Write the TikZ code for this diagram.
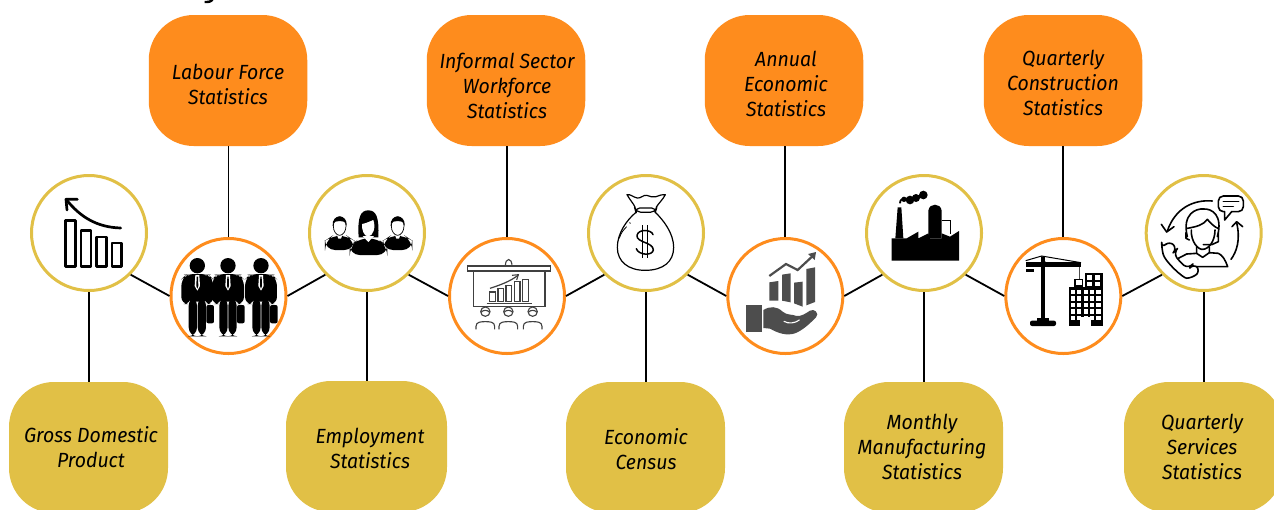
\documentclass[tikz,border=0pt]{standalone}
\usepackage{fontspec}
\setmainfont[ItalicFeatures={FakeStretch=0.95}]{Fira Sans}
\definecolor{orangeC}{HTML}{FE8C1D}
\definecolor{goldC}{HTML}{E1C046}
\definecolor{handC}{HTML}{4D4D4D}
\tikzset{
  obox/.style={rectangle,rounded corners=45pt,fill=orangeC,minimum width=158.5pt,minimum height=131pt,inner sep=0pt},
  gbox/.style={rectangle,rounded corners=45pt,fill=goldC,minimum width=159pt,minimum height=131pt,inner sep=0pt},
  lbl/.style={align=center,font=\itshape\fontsize{20.5}{25}\selectfont,inner sep=0pt,text=black},
  gcirc/.style={circle,draw=goldC,line width=3pt,fill=white,minimum size=115pt,inner sep=0pt},
  ocirc/.style={circle,draw=orangeC,line width=3pt,fill=white,minimum size=115pt,inner sep=0pt},
  conn/.style={draw=black,line width=1.8pt},
  zoomA/.style={x=0.33333pt,y=-0.33333pt},
  man/.pic={
    \fill (0,797) circle (23);
    \fill[rounded corners=8] (-36,905) -- (-36,822) -- (36,822) -- (36,905) -- cycle;
    \fill[rounded corners=7] (-48,912) -- (-48,838) -- (-34,824) -- (-20,824) -- (-20,912) -- cycle;
    \fill[rounded corners=7] (48,912) -- (48,838) -- (34,824) -- (20,824) -- (20,912) -- cycle;
    \fill[rounded corners=9] (-26,890) rectangle (-1,1009);
    \fill[rounded corners=9] (1,890) rectangle (26,1009);
    \fill[white] (-6,825) -- (6,825) -- (8,858) -- (0,872) -- (-8,858) -- cycle;
    \fill (-2,830) -- (2,830) -- (3,858) -- (0,866) -- (-3,858) -- cycle;
    \fill[rounded corners=2] (27,915) rectangle (50,970);
  },
  bizman/.pic={
    \fill[rounded corners=10] (-44,750) -- (-44,722) -- (-20,706) -- (20,706) -- (44,722) -- (44,750) -- cycle;
    \fill[white] (-9,702) -- (9,702) -- (4,716) -- (-4,716) -- cycle;
    \draw[fill=white,line width=0.7pt] (0,678) ellipse (19 and 28);
    \fill (-21,678) .. controls (-25,640) and (25,640) .. (21,678) .. controls (18,664) and (8,662) .. (0,663) .. controls (-8,662) and (-18,664) .. (-21,678) -- cycle;
  },
  listener/.pic={
    \draw[line width=1.1pt] (0,-12) circle (14);
    \draw[line width=1.1pt] (-13,-10) .. controls (-6,-18) and (6,-18) .. (13,-10);
    \draw[line width=1.1pt] (-28,41) -- (-28,32) .. controls (-28,18) and (-12,18) .. (0,18) .. controls (12,18) and (28,18) .. (28,32) -- (28,41);
  }
}
\begin{document}
\begin{tikzpicture}[x=1pt,y=-1pt]
\useasboundingbox (0,0) rectangle (1274,509);
\clip (0,0) rectangle (1274,509);
\fill[white] (0,0) rectangle (1274,509);
% cropped title descender
\begin{scope}[zoomA]
\draw[line width=2.4pt] (640,-6) .. controls (634,6) and (628,6) .. (614,6);
\end{scope}

% boxes
\node[obox] (b2) at (228,80.5) {};
\node[obox] (b4) at (506,80.5) {};
\node[obox] (b6) at (784,80.5) {};
\node[obox] (b8) at (1063,80.5) {};
\node[gbox] (b1) at (88.5,447.5) {};
\node[gbox,minimum width=161pt] (b3) at (366.5,446.5) {};
\node[gbox] (b5) at (645.5,447.5) {};
\node[gbox] (b7) at (923.5,447.5) {};
\node[gbox] (b9) at (1203.5,447.5) {};

% circles
\node[gcirc] (g1) at (89,233) {};
\node[gcirc] (g3) at (367,233) {};
\node[gcirc] (g5) at (646,233) {};
\node[gcirc] (g7) at (924,233) {};
\node[gcirc] (g9) at (1203.7,233) {};
\node[ocirc] (o2) at (228.5,296) {};
\node[ocirc] (o4) at (507,296) {};
\node[ocirc] (o6) at (785.3,296) {};
\node[ocirc] (o8) at (1063.3,296) {};

% connectors
\draw[conn] (g1.-45) -- (o2.west);
\draw[conn] (o2.east) -- (g3.-135);
\draw[conn] (g3.-45) -- (o4.west);
\draw[conn] (o4.east) -- (g5.-135);
\draw[conn] (g5.-45) -- (o6.west);
\draw[conn] (o6.east) -- (g7.-135);
\draw[conn] (g7.-45) -- (o8.west);
\draw[conn] (o8.east) -- (g9.-135);
\draw[conn] (o2.north) -- (o2.north |- b2.south);
\draw[conn] (o4.north) -- (o4.north |- b4.south);
\draw[conn] (o6.north) -- (o6.north |- b6.south);
\draw[conn] (o8.north) -- (o8.north |- b8.south);
\draw[conn] (g1.south) -- (g1.south |- b1.north);
\draw[conn] (g3.south) -- (g3.south |- b3.north);
\draw[conn] (g5.south) -- (g5.south |- b5.north);
\draw[conn] (g7.south) -- (g7.south |- b7.north);
\draw[conn] (g9.south) -- (g9.south |- b9.north);

% labels
\node[lbl] (t2) at (228,84.5) {Labour Force\\Statistics};
\node[lbl] (t4) at (507,86) {Informal Sector\\Workforce\\Statistics};
\node[lbl] (t6) at (786,84) {Annual\\Economic\\Statistics};
\node[lbl] (t8) at (1063,83) {Quarterly\\Construction\\Statistics};
\node[lbl] (t1) at (91,447) {Gross Domestic\\Product};
\node[lbl] (t3) at (370,448) {Employment\\Statistics};
\node[lbl] (t5) at (646,449) {Economic\\Census};
\node[lbl] (t7) at (922,447) {Monthly\\Manufacturing\\Statistics};
\node[lbl] (t9) at (1202,447) {Quarterly\\Services\\Statistics};

% ---- icons, left group
\begin{scope}[zoomA]
% falling bars
\begin{scope}[line width=2.5pt,line join=round]
\draw (197,661) rectangle (226,799);
\draw (243,692) rectangle (273,799);
\draw (290,711) rectangle (319,799);
\draw (336,729) rectangle (364,799);
\draw[line width=2.7pt,line cap=round] (362,684) .. controls (290,682) and (240,650) .. (200,600);
\draw[line width=2.7pt,line cap=round] (232,598) -- (198,598) -- (201,630);
\end{scope}
% three men
\pic at (592,0) {man};
\pic at (783,0) {man};
\pic at (684,0) {man};
% team
\pic at (1019,0) {bizman};
\pic at (1193,0) {bizman};
\fill (1076,712) .. controls (1072,650) and (1082,631) .. (1105,631) .. controls (1128,631) and (1138,650) .. (1135,712) -- cycle;
\fill[rounded corners=10] (1049,765) -- (1049,738) -- (1080,714) -- (1130,714) -- (1162,738) -- (1162,765) -- cycle;
\fill[white] (1088,708) -- (1122,708) -- (1105,726) -- cycle;
\fill[white] (1086,672) .. controls (1098,670) and (1110,664) .. (1120,660) .. controls (1128,682) and (1120,708) .. (1104,710) .. controls (1092,708) and (1085,690) .. (1086,672) -- cycle;
\end{scope}

% ---- icons, middle group
\begin{scope}[shift={(430,170)},zoomA]
% presentation
\begin{scope}[draw=black!75,line width=1.1pt]
\draw (226,288) .. controls (226,262) and (246,262) .. (246,288);
\draw[line width=1.4pt] (112,288) rectangle (362,303);
\draw[line width=1.4pt] (130,303) rectangle (345,410);
\draw (179,366) rectangle (196,395);
\draw (204,356) rectangle (221,395);
\draw (228,346) rectangle (245,395);
\draw (253,335) rectangle (270,395);
\draw (278,328) rectangle (295,395);
\draw[line width=1.4pt] (170,401) -- (305,401);
\draw[line width=1.2pt] (180,355) .. controls (210,345) and (240,335) .. (265,315);
\draw (246,316) -- (265,314) -- (260,330);
\pic at (166,437) {listener};
\pic at (235,437) {listener};
\pic at (308,437) {listener};
\end{scope}
% money bag
\begin{scope}[line width=1.2pt,line join=round]
\draw (618,127) .. controls (590,150) and (562,190) .. (562,232) .. controls (562,275) and (595,301) .. (645,301) .. controls (700,301) and (731,275) .. (731,232) .. controls (731,190) and (700,150) .. (676,127);
\draw[rounded corners=5] (614,114) -- (680,114) -- (676,127) -- (618,127) -- cycle;
\draw (616,113) .. controls (610,100) and (600,90) .. (591,74) .. controls (602,72) and (610,82) .. (622,84) .. controls (632,86) and (640,74) .. (650,76) .. controls (660,78) and (668,84) .. (678,80) .. controls (690,76) and (698,72) .. (706,74) .. controls (698,90) and (685,100) .. (678,113);
\draw[line width=0.8pt] (568,205) .. controls (572,190) and (580,180) .. (590,170);
\draw[line width=0.8pt] (598,158) -- (602,160);
\draw[line width=1.5pt,line cap=round] (669,194) .. controls (665,178) and (625,176) .. (621,196) .. controls (618,218) and (670,216) .. (670,240) .. controls (668,258) and (625,256) .. (619,236);
\draw[line width=1.3pt] (638,165) -- (638,265) (652,165) -- (652,265);
\end{scope}
% hand with chart
\begin{scope}[fill=handC]
\fill (1018,337) -- (1045,333) -- (1045,392) -- (1018,392) -- cycle;
\fill (1056,314) -- (1082,310) -- (1082,397) -- (1056,392) -- cycle;
\fill (1092,338) -- (1118,335) -- (1118,410) -- (1092,400) -- cycle;
\fill (1129,297) -- (1155,292) -- (1155,396) -- (1129,406) -- cycle;
\draw[draw=handC,line width=2.2pt] (1018,318) -- (1068,282) -- (1103,300) -- (1146,260);
\fill (1158,246) -- (1154,270) -- (1134,252) -- cycle;
\fill (948,405) rectangle (995,485);
\fill (1000,420) .. controls (1020,408) and (1040,408) .. (1058,425) .. controls (1070,436) and (1085,432) .. (1100,438) .. controls (1115,440) and (1130,428) .. (1140,422) .. controls (1152,414) and (1170,430) .. (1158,442) .. controls (1140,460) and (1120,480) .. (1095,490) .. controls (1070,498) and (1045,490) .. (1020,476) -- (1000,474) -- cycle;
\draw[white,line width=1.1pt,line cap=round] (1062,454) .. controls (1075,462) and (1095,460) .. (1108,450);
\end{scope}
\end{scope}

% ---- icons, right group
\begin{scope}[shift={(850,170)},zoomA]
% factory
\fill (125,205) -- (170,205) -- (205,185) -- (205,205) -- (235,190) -- (240,205) -- (275,205) -- (275,190) -- (300,200) -- (327,183) -- (327,272) -- (125,272) -- cycle;
\fill (143,112) -- (154,112) -- (160,205) -- (136,205) -- cycle;
\fill (235,205) -- (235,122) .. controls (238,98) and (272,98) .. (275,122) -- (275,205) -- cycle;
\draw[line width=1pt] (275,150) -- (300,150) -- (300,192);
\fill (220,75) circle (13) (198,84) circle (12) (180,90) circle (13) (162,88) circle (8);
\draw[line width=1.8pt] (150,100) .. controls (150,90) and (155,86) .. (165,86);
% crane
\fill (572,262) rectangle (586,447);
\fill (560,445) rectangle (596,453);
\fill[rounded corners=2] (540,452) rectangle (618,468);
\fill (527,277) rectangle (693,290);
\fill (527,297) rectangle (552,307);
\draw[line width=1pt] (527,272) -- (575,258) -- (693,278);
\draw[line width=1pt] (575,258) -- (586,278);
\draw[line width=1pt,draw=black!70] (687,292) -- (687,328);
\draw[line width=1.5pt] (675,329) rectangle (697,348);
\fill (657,352) rectangle (705,467);
\fill (705,310) rectangle (758,467);
\foreach \c in {0,1,2,3,4}{\foreach \r in {0,1,2,3,4}{
  \fill[white] ({662+\c*19.3},{360+\r*19.3}) rectangle ++(13,13);}}
\foreach \c in {0,1}{\foreach \r in {0,1}{
  \fill[white] ({710+\c*24},{316+\r*20}) rectangle ++(16,13);}}
\fill[white] (691,441) rectangle (722,467);
% support agent
\begin{scope}[line width=1.6pt,line join=round,line cap=round]
\draw[rounded corners=5] (1105,78) rectangle (1180,125);
\fill[white] (1124,120) rectangle (1142,130);
\draw (1124,125) -- (1124,150) -- (1145,125);
\draw (1120,95) -- (1166,95) (1120,109) -- (1150,109);
\draw (1087,93) .. controls (1030,88) and (975,115) .. (952,183);
\draw (934,163) -- (950,186) -- (972,170);
\draw (1143,268) .. controls (1160,245) and (1172,210) .. (1160,158);
\draw (1146,170) -- (1160,155) -- (1178,170);
\draw (1012,200) .. controls (995,130) and (1040,115) .. (1060,117) .. controls (1085,115) and (1120,135) .. (1102,200);
\draw (1012,175) .. controls (1040,170) and (1060,165) .. (1072,148) .. controls (1082,160) and (1095,172) .. (1104,175);
\draw (1024,180) .. controls (1022,215) and (1045,240) .. (1058,238) .. controls (1075,238) and (1095,215) .. (1095,180);
\draw (1008,188) -- (1008,205) -- (1018,210) (1105,188) -- (1105,215) -- (1085,224) -- (1060,224);
\draw (1040,232) -- (1040,250) -- (1058,262) -- (1078,248) -- (1078,232);
\draw (985,265) -- (1010,252) -- (1040,250) (1078,248) -- (1105,250) .. controls (1118,256) and (1126,270) .. (1133,290) -- (1040,290);
\draw[rounded corners=6,fill=white] (935,235) -- (958,212) -- (982,236) -- (970,248) .. controls (985,270) and (1000,285) .. (1018,296) -- (1030,280) -- (1052,302) -- (1028,324) .. controls (1000,325) and (945,275) .. cycle;
\end{scope}
\end{scope}
\end{tikzpicture}
\end{document}
